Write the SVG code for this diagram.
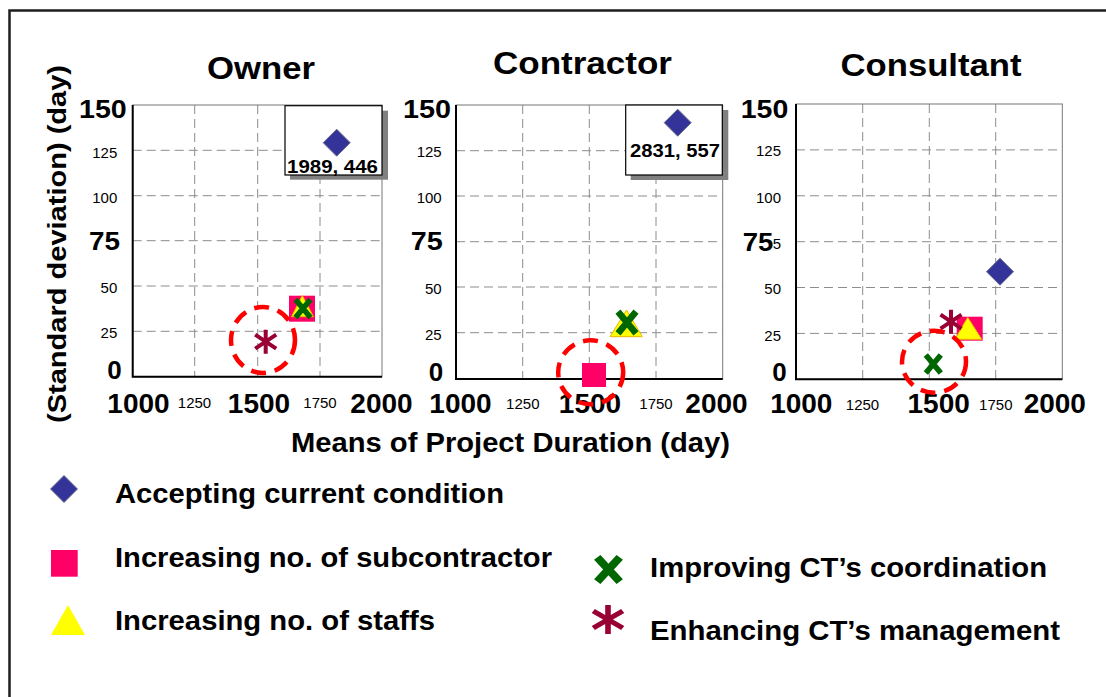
<svg xmlns="http://www.w3.org/2000/svg" xmlns:xlink="http://www.w3.org/1999/xlink" width="1106" height="697" viewBox="0 0 1106 697">
<style>
text{font-family:"Liberation Sans",Arial,sans-serif;fill:#000}
.big{font-weight:bold;font-size:26px}
.xb{font-weight:bold;font-size:28px}
.sm{font-size:15px}
.ttl{font-weight:bold;font-size:32px}
.leg{font-weight:bold;font-size:28px}
.ann{font-weight:bold;font-size:19px}
.grid{stroke:#8c8c8c;stroke-width:1;stroke-dasharray:9 5;fill:none}
.pframe{fill:none;stroke:#777;stroke-width:1}
.axis{stroke:#000;stroke-width:2;fill:none}
.circ{fill:none;stroke:#ff0000;stroke-width:4.5;stroke-dasharray:15 9}
.box{fill:#fff;stroke:#000;stroke-width:1.2}
.shadow{fill:#808080}
</style>
<defs>
<polygon id="dia" points="0,-13.5 13.5,0 0,13.5 -13.5,0" fill="#333399" stroke="#6b6b8a" stroke-width="1"/>
<g id="xm"><path d="M-7.5,-9 L7.5,9 M7.5,-9 L-7.5,9" stroke="#006600" stroke-width="5.5" fill="none"/></g>
<g id="ast"><path d="M0,-12 V12 M-10.5,-7 L10.5,7 M10.5,-7 L-10.5,7" stroke="#990033" stroke-width="4" fill="none"/></g>
</defs>

<path id="frame" d="M9.5,697 V10.5 H1106" fill="none" stroke="#1e1e1e" stroke-width="2.5"/>

<text class="big" x="66" y="244" text-anchor="middle" transform="rotate(-90 66 244)" font-size="28" textLength="358" lengthAdjust="spacingAndGlyphs">(Standard deviation) (day)</text>
<text class="xb" x="291" y="451.7" textLength="439" lengthAdjust="spacingAndGlyphs">Means of Project Duration (day)</text>

<!-- Owner panel -->
<g id="panel-owner">
<text class="ttl" x="261" y="79" text-anchor="middle" textLength="108" lengthAdjust="spacingAndGlyphs">Owner</text>
<path class="grid" d="M194.7,105V376.7M257.7,105V376.7M320,105V376.7M132.7,150.3H382M132.7,195.7H382M132.7,240.7H382M132.7,286H382M132.7,331.3H382"/>
<rect class="pframe" x="132.7" y="105" width="249.3" height="271.7"/>
<path class="axis" d="M132.7,105V376.7H382"/>
<text class="big" x="126.7" y="118.3" text-anchor="end" textLength="47.7" lengthAdjust="spacingAndGlyphs">150</text>
<text class="sm" x="117.3" y="157.7" text-anchor="end">125</text>
<text class="sm" x="117.3" y="202.7" text-anchor="end">100</text>
<text class="big" x="120" y="250" text-anchor="end" textLength="31" lengthAdjust="spacingAndGlyphs">75</text>
<text class="sm" x="117.3" y="293.3" text-anchor="end">50</text>
<text class="sm" x="117.3" y="338.3" text-anchor="end">25</text>
<text class="big" x="121.7" y="378.5" text-anchor="end">0</text>
<text class="xb" x="138.5" y="413.3" text-anchor="middle">1000</text>
<text class="sm" x="194.5" y="408" text-anchor="middle">1250</text>
<text class="xb" x="259" y="413.3" text-anchor="middle">1500</text>
<text class="sm" x="320" y="408" text-anchor="middle">1750</text>
<text class="xb" x="381.5" y="413.3" text-anchor="middle">2000</text>
<rect class="shadow" x="290" y="110.7" width="98" height="69"/>
<rect class="box" x="285" y="105.7" width="97" height="69.3"/>
<use xlink:href="#dia" x="336.7" y="142.7"/>
<text class="ann" x="332.5" y="172.5" text-anchor="middle" textLength="91" lengthAdjust="spacingAndGlyphs">1989, 446</text>
<rect x="289" y="295.7" width="26" height="26" fill="#ff0066"/>
<polygon points="302.3,295.5 313.5,316.7 291.5,316.7" fill="#ffff00" stroke="#e6b800" stroke-width="1"/>
<use xlink:href="#xm" x="303" y="308.5"/>
<use xlink:href="#ast" x="265.7" y="341.7"/>
<ellipse class="circ" cx="263" cy="340" rx="32" ry="33"/>
</g>

<!-- Contractor panel -->
<g id="panel-contractor">
<text class="ttl" x="582.5" y="74" text-anchor="middle" textLength="179" lengthAdjust="spacingAndGlyphs">Contractor</text>
<path class="grid" d="M522.7,105V379M589.3,105V379M656,105V379M456,150.7H722.7M456,196H722.7M456,241.7H722.7M456,287H722.7M456,332.7H722.7"/>
<rect class="pframe" x="456" y="105" width="266.7" height="274"/>
<path class="axis" d="M456,105V379H722.7"/>
<text class="big" x="451" y="118" text-anchor="end" textLength="48" lengthAdjust="spacingAndGlyphs">150</text>
<text class="sm" x="441.7" y="156.7" text-anchor="end">125</text>
<text class="sm" x="441.7" y="203.3" text-anchor="end">100</text>
<text class="big" x="442.7" y="250" text-anchor="end" textLength="32" lengthAdjust="spacingAndGlyphs">75</text>
<text class="sm" x="441.7" y="294" text-anchor="end">50</text>
<text class="sm" x="441.7" y="340" text-anchor="end">25</text>
<text class="big" x="443.3" y="380.7" text-anchor="end">0</text>
<text class="xb" x="460.5" y="413.3" text-anchor="middle">1000</text>
<text class="sm" x="522.8" y="409" text-anchor="middle">1250</text>
<text class="xb" x="590" y="413.3" text-anchor="middle">1500</text>
<text class="sm" x="656" y="409" text-anchor="middle">1750</text>
<text class="xb" x="716.5" y="413.3" text-anchor="middle">2000</text>
<rect class="shadow" x="630.7" y="110" width="97.6" height="70"/>
<rect class="box" x="625.7" y="105" width="96.6" height="70"/>
<use xlink:href="#dia" x="677.7" y="122.7"/>
<text class="ann" x="675" y="157" text-anchor="middle" textLength="90" lengthAdjust="spacingAndGlyphs">2831, 557</text>
<rect x="582" y="363" width="24" height="24" fill="#ff0066"/>
<polygon points="626.5,310 642.3,336.7 610,336.7" fill="#ffff00" stroke="#e6b800" stroke-width="1"/>
<g transform="translate(627 322.5) scale(1.2)"><use xlink:href="#xm"/></g>
<ellipse class="circ" cx="590.7" cy="372.3" rx="32.5" ry="32"/>
</g>

<!-- Consultant panel -->
<g id="panel-consultant">
<text class="ttl" x="931" y="76" text-anchor="middle" textLength="181" lengthAdjust="spacingAndGlyphs">Consultant</text>
<path class="grid" d="M862.7,104V379.3M929.3,104V379.3M995.7,104V379.3M796,149.9H1062.3M796,195.8H1062.3M796,241.7H1062.3M796,287.5H1062.3M796,333.4H1062.3"/>
<rect class="pframe" x="796" y="104" width="266.3" height="275.3"/>
<path class="axis" d="M796,104V379.3H1062.3"/>
<text class="big" x="788.3" y="118.3" text-anchor="end" textLength="47.6" lengthAdjust="spacingAndGlyphs">150</text>
<text class="sm" x="781" y="156" text-anchor="end">125</text>
<text class="sm" x="781" y="203.3" text-anchor="end">100</text>
<text class="sm" x="781" y="248.5" text-anchor="end">5</text>
<text class="big" x="773.3" y="250.7" text-anchor="end" textLength="30.6" lengthAdjust="spacingAndGlyphs">75</text>
<text class="sm" x="781" y="294" text-anchor="end">50</text>
<text class="sm" x="781" y="340.7" text-anchor="end">25</text>
<text class="big" x="786.7" y="380.7" text-anchor="end">0</text>
<text class="xb" x="801.3" y="413.3" text-anchor="middle">1000</text>
<text class="sm" x="862.5" y="410" text-anchor="middle">1250</text>
<text class="xb" x="938.7" y="413.3" text-anchor="middle">1500</text>
<text class="sm" x="995.8" y="410" text-anchor="middle">1750</text>
<text class="xb" x="1054.8" y="413.3" text-anchor="middle">2000</text>
<use xlink:href="#dia" x="1000" y="271.7"/>
<rect x="956.7" y="316.7" width="26" height="24" fill="#ff0066"/>
<polygon points="967.7,317.3 981.7,339.3 955,339.3" fill="#ffff00" stroke="#e6b800" stroke-width="1"/>
<use xlink:href="#ast" x="951" y="321.7"/>
<use xlink:href="#xm" x="933.3" y="364"/>
<ellipse class="circ" cx="934" cy="361.7" rx="32" ry="31"/>
</g>

<!-- Legend -->
<g id="legend">
<g id="leg-accepting">
<g transform="translate(64 489)"><use xlink:href="#dia"/></g>
<text class="leg" x="115" y="503" textLength="389" lengthAdjust="spacingAndGlyphs">Accepting current condition</text>
</g>
<g id="leg-subcontractor">
<rect x="51" y="550" width="26.7" height="26.7" fill="#ff0066"/>
<text class="leg" x="115" y="566.7" textLength="437" lengthAdjust="spacingAndGlyphs">Increasing no. of subcontractor</text>
</g>
<g id="leg-staffs">
<polygon points="68,605 85,635 51,635" fill="#ffff00"/>
<text class="leg" x="115" y="630" textLength="320" lengthAdjust="spacingAndGlyphs">Increasing no. of staffs</text>
</g>
<g id="leg-coordination">
<g transform="translate(608.5 569.5) scale(1.5 1.35)"><use xlink:href="#xm"/></g>
<text class="leg" x="650" y="577" textLength="397" lengthAdjust="spacingAndGlyphs">Improving CT’s coordination</text>
</g>
<g id="leg-management">
<g transform="translate(608 619.5) scale(1.4 1.2)"><use xlink:href="#ast"/></g>
<text class="leg" x="650" y="640" textLength="410" lengthAdjust="spacingAndGlyphs">Enhancing CT’s management</text>
</g>
</g>
</svg>
